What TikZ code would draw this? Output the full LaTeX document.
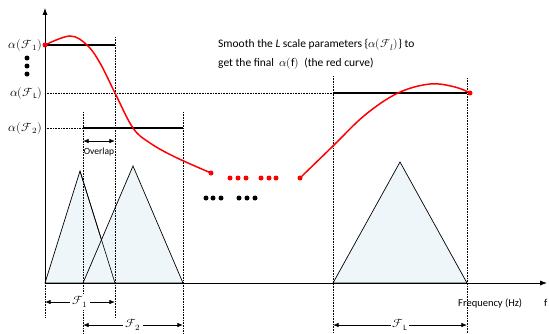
\documentclass[tikz,border=0pt]{standalone}
\usepackage{amsmath,amssymb}
\usepackage{fontspec}
\setmainfont{Carlito}
\usepackage{unicode-math}
\setmathfont{Latin Modern Math}
\usetikzlibrary{arrows.meta,positioning}
\definecolor{tripale}{HTML}{EFF6FA}
\definecolor{curvered}{HTML}{FF0000}
\newcommand{\aF}[1]{$\alpha(\mathcal{F}_{#1})$}
\newcommand{\fsz}[1]{\fontsize{#1}{#1}\selectfont}
\tikzset{
  axisline/.style  ={line width=0.9pt, -{Latex[length=2.4mm,width=1.8mm]}},
  dotline/.style   ={densely dotted, line width=0.6pt},
  levelline/.style ={line width=1.1pt},
  tribox/.style    ={draw=black, fill=tripale, line width=0.7pt, line join=miter},
  dimarr/.style    ={{Latex[length=2mm,width=1.6mm]}-{Latex[length=2mm,width=1.6mm]}, line width=0.8pt},
  redcurve/.style  ={draw=curvered, line width=1.5pt},
  reddot/.style    ={circle, fill=curvered, inner sep=0pt, minimum size=5pt},
  blkdot/.style    ={circle, fill=black, inner sep=0pt, minimum size=5pt},
  alab/.style      ={font=\fsz{12}, inner sep=1pt, anchor=east},
  flab/.style      ={fill=white, inner sep=2pt, font=\fsz{12}},
  txt/.style       ={anchor=west, font=\fsz{11.5}, inner sep=0pt},
}
\begin{document}
\begin{tikzpicture}[x=1pt,y=-1pt]
  \useasboundingbox (0,0) rectangle (549,333);
  % reference points
  \coordinate (o)  at (45,283);
  \coordinate (ytop) at (45,8);
  \coordinate (xend) at (547,283);

  % triangles
  \draw[tribox] (45,283) -- (80,171) -- (115,283) -- cycle;
  \draw[tribox] (83,283) -- (133,166) -- (183,283) -- cycle;
  \draw[tribox] (333,283) -- (400,162) -- (467,283) -- cycle;
  \draw[line width=0.6pt] (80,171) -- (115,283);

  % dotted guides
  \draw[dotline] (115,37) -- (115,318);
  \draw[dotline] (83,112) -- (83,333);
  \draw[dotline] (183,112) -- (183,333);
  \draw[dotline] (45,283) -- (45,318);
  \draw[dotline] (333,76) -- (333,333);
  \draw[dotline] (467,78) -- (467,333);
  \draw[dotline] (45,93) -- (333,93);
  \draw[dotline] (45,128) -- (83,128);

  % axes
  \draw[axisline] (o) -- (ytop);
  \draw[axisline] (o) -- (xend);

  % level lines
  \draw[levelline] (45,45) -- (115,45);
  \draw[levelline] (83,128) -- (183,128);
  \draw[levelline] (333,93) -- (467,93);

  % level labels
  \node[alab] (a1) at (43,45)  {\aF{1}};
  \node[alab] (aL) at (43,93)  {\aF{\mathrm{L}}};
  \node[alab] (a2) at (43,128) {\aF{2}};
  \foreach \y in {58,66,74} \node[blkdot] at (27,\y) {};

  % overlap
  \draw[dimarr] (83,141) -- node[below=3pt, font=\fsz{9.5}] (ovl) {Overlap} (115,141);

  % band widths
  \draw[dimarr] (45,302) -- node[flab] (f1) {$\mathcal{F}_1$} (115,302);
  \draw[dimarr] (83,325) -- node[flab] (f2) {$\mathcal{F}_2$} (183,325);
  \draw[dimarr] (333,325) -- node[flab] (fL) {$\mathcal{F}_{\mathrm{L}}$} (467,325);

  % red curve
  \draw[redcurve] plot[smooth, tension=0.6] coordinates
    {(45,45) (70,36) (87,45) (100,63) (115,93) (133,128) (150,143) (175,157) (211,173)};
  \draw[redcurve] plot[smooth, tension=0.6] coordinates
    {(300,178) (333,146) (365,115) (398,93) (430,84) (455,87) (470,93)};
  \node[reddot] (r0) at (45,45) {};
  \node[reddot] (r1) at (211,173) {};
  \node[reddot] (r2) at (300,178) {};
  \node[reddot] (r3) at (470,93) {};
  \foreach \x in {230,238,246,261,269,276} \node[reddot] at (\x,178) {};
  \foreach \x in {206,213,221,239,247,255} \node[blkdot] at (\x,198) {};

  % texts
  \node[txt] (t1) at (218,45)
    {Smooth the \textit{L} scale parameters \{$\alpha(\mathcal{F}_{l})$\} to};
  \node[txt] (t2) at (218,64)
    {get the final \ $\alpha(\mathrm{f})$ \ (the red curve)};
  \node[txt, font=\fsz{10.5}] (fq) at (458,303) {Frequency (Hz)};
  \node[txt, font=\fsz{10.5}] (fv) at (544,303) {f};
\end{tikzpicture}
\end{document}
